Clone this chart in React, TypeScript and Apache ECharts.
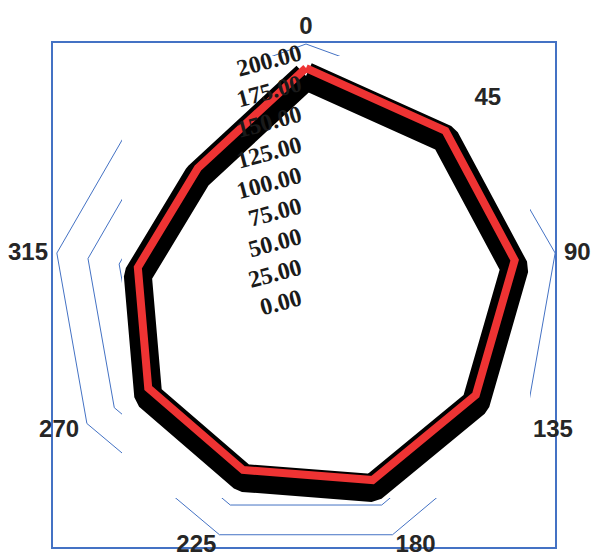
import React, { useEffect, useRef } from 'react';
import * as echarts from 'echarts';

// Indicator names, listed clockwise from the top
const angleNames: string[] = ['0', '45', '90', '135', '180', '225', '270', '315', ''];
// Series values, clockwise from the top (same order as angleNames)
const lineValues: number[] = [181, 171.5, 167.5, 155, 154, 145.5, 144, 135, 133];
// Radius scale
const axisMin = 0;
const axisMax = 200;
const tickStep = 25;

const BLUE = '#4472C4';

export default function App() {
  const ref = useRef<HTMLDivElement>(null);

  useEffect(() => {
    if (!ref.current) return;
    const chart = echarts.init(ref.current, undefined, { renderer: 'svg' });

    const n = angleNames.length;
    // ECharts radar runs counter-clockwise; reorder to keep clockwise labelling
    const order = Array.from({ length: n }, (_, i) => (n - i) % n);
    const ccwNames = order.map((k) => angleNames[k]);
    const ccwValues = order.map((k) => lineValues[k]);
    const indicator = ccwNames.map((name) => ({ name, min: axisMin, max: axisMax }));
    const splitNumber = (axisMax - axisMin) / tickStep;

    const hidden = {
      axisLine: { show: false },
      axisTick: { show: false },
      axisLabel: { show: false },
      splitArea: { show: false },
    };

    const option: any = {
      animation: false,
      backgroundColor: '#ffffff',
      radar: [
        {
          center: [306, 297],
          radius: 253,
          startAngle: 90,
          splitNumber,
          shape: 'polygon',
          indicator,
          axisName: { show: false },
          ...hidden,
          splitLine: { lineStyle: { color: BLUE, width: 1 } },
          z: 0,
        },
        {
          center: [306, 305],
          radius: 253,
          startAngle: 90,
          splitNumber,
          shape: 'polygon',
          indicator,
          axisName: { show: false },
          ...hidden,
          splitLine: { show: false },
          z: 0,
        },
        {
          center: [306, 297],
          radius: 253,
          startAngle: 90,
          splitNumber,
          shape: 'polygon',
          indicator,
          nameGap: 9,
          axisName: {
            color: '#262626',
            fontFamily: 'Liberation Sans, Arial, sans-serif',
            fontWeight: 'bold',
            fontSize: 24,
            lineHeight: 20,
          },
          ...hidden,
          splitLine: { show: false },
          z: 5,
        },
      ],
      polar: { center: [306, 297], radius: 245 },
      angleAxis: { show: false, min: 0, max: 360 },
      radiusAxis: {
        min: axisMin,
        max: axisMax,
        interval: tickStep,
        z: 10,
        axisLine: { show: false },
        axisTick: { show: false },
        splitLine: { show: false },
        axisLabel: {
          rotate: 15,
          margin: 5,
          formatter: (v: number) => v.toFixed(2),
          fontFamily: 'Liberation Serif, Times New Roman, serif',
          fontWeight: 'bold',
          fontSize: 24,
          color: '#1a1a1a',
        },
      },
      series: [
        {
          type: 'radar',
          radarIndex: 1,
          symbol: 'none',
          z: 3,
          lineStyle: { color: '#000000', width: 28, join: 'bevel' },
          data: [{ value: ccwValues, name: 'shadow' }],
        },
        {
          type: 'radar',
          radarIndex: 0,
          symbol: 'none',
          z: 4,
          lineStyle: { color: '#EE3333', width: 8, join: 'miter' },
          data: [{ value: ccwValues, name: 'series' }],
        },
      ],
      graphic: [
        {
          type: 'rect',
          z: 1,
          silent: true,
          shape: { x: 122, y: 56, width: 408, height: 442 },
          style: { fill: '#ffffff' },
        },
        {
          type: 'rect',
          z: 1,
          silent: true,
          shape: { x: 52, y: 42, width: 504, height: 506 },
          style: { fill: 'none', stroke: BLUE, lineWidth: 2 },
        },
      ],
    };

    chart.setOption(option);
    return () => chart.dispose();
  }, []);

  return (
    <div
      ref={ref}
      style={{ position: 'fixed', left: 0, top: 0, width: 594, height: 556 }}
    />
  );
}
